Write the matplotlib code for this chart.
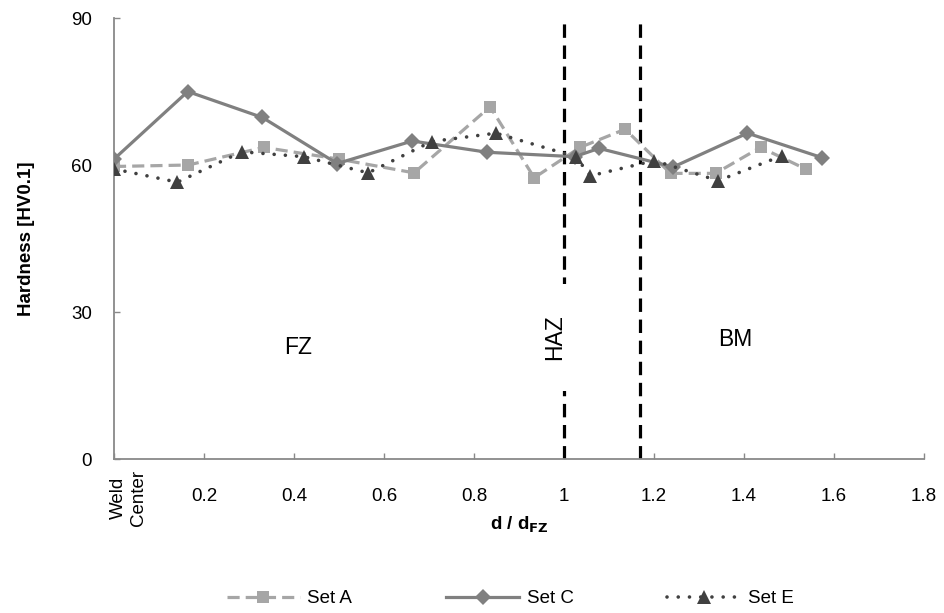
import matplotlib
matplotlib.use("Agg")
import matplotlib.pyplot as plt

plt.rcParams['font.family'] = ['Liberation Sans', 'DejaVu Sans']

# ---- data ----
set_a_x = [0.0, 0.165, 0.333, 0.5, 0.667, 0.836, 0.934, 1.036, 1.136, 1.237, 1.337, 1.437, 1.537]
set_a_y = [59.7, 60.0, 63.6, 61.2, 58.4, 71.9, 57.4, 63.6, 67.3, 58.3, 58.3, 63.6, 59.2]

set_c_x = [0.0, 0.164, 0.33, 0.496, 0.663, 0.83, 1.024, 1.078, 1.243, 1.408, 1.574]
set_c_y = [61.2, 75.0, 69.7, 60.3, 64.9, 62.6, 61.7, 63.4, 59.6, 66.5, 61.5]

set_e_x = [0.0, 0.141, 0.284, 0.422, 0.565, 0.706, 0.849, 1.026, 1.059, 1.201, 1.343, 1.485]
set_e_y = [59.2, 56.5, 62.7, 61.7, 58.4, 64.8, 66.5, 61.7, 57.8, 60.9, 56.8, 61.9]

x_ticks = [0.0, 0.2, 0.4, 0.6, 0.8, 1.0, 1.2, 1.4, 1.6, 1.8]
x_tick_labels = ["Weld\nCenter", "0.2", "0.4", "0.6", "0.8", "1", "1.2", "1.4", "1.6", "1.8"]
y_ticks = [0, 30, 60, 90]

zone_bounds = [1.0, 1.17]
zone_labels = ["FZ", "HAZ", "BM"]

# ---- figure ----
fig = plt.figure(figsize=(9.45, 6.13), dpi=100)
ax = fig.add_axes([0.1206, 0.2512, 0.857, 0.7194])

ax.plot(set_a_x, set_a_y, color='#A6A6A6', lw=2.3, linestyle=(0, (3.8, 1.9)),
        marker='s', markersize=8.5, markeredgewidth=0, label='Set A', zorder=3)
ax.plot(set_c_x, set_c_y, color='#808080', lw=2.3, linestyle='-',
        marker='D', markersize=8, markeredgewidth=0, label='Set C', zorder=4)
ax.plot(set_e_x, set_e_y, color='#404040', lw=2.6, linestyle=(0, (0.01, 3.1)),
        dash_capstyle='round', marker='^', markersize=10, markeredgewidth=0,
        label='Set E', zorder=5)

for xb in zone_bounds:
    ax.axvline(xb, color='black', lw=2.3, linestyle=(0, (4.2, 2.4)), zorder=2)

ax.text(0.41, 22.8, zone_labels[0], fontsize=16.5, ha='center', va='center')
ax.text(0.98, 24.8, zone_labels[1], fontsize=16.5, ha='center', va='center', rotation=90,
        bbox=dict(facecolor='white', edgecolor='none', pad=22), zorder=6)
ax.text(1.38, 24.3, zone_labels[2], fontsize=16.5, ha='center', va='center')

ax.set_xlim(0, 1.8)
ax.set_ylim(0, 90)
ax.set_xticks(x_ticks)
ax.set_xticklabels([""] + x_tick_labels[1:], fontsize=13.5)
ax.set_yticks(y_ticks)
ax.set_yticklabels([str(v) for v in y_ticks], fontsize=13.5)
ax.annotate(x_tick_labels[0], xy=(0, 0), xycoords=('data', 'axes fraction'),
            xytext=(10.5, -8), textcoords='offset points', rotation=90,
            ha='center', va='top', fontsize=13.5, linespacing=1.25)

ax.tick_params(axis='both', direction='in', length=4, width=1, color='#898989')
ax.tick_params(axis='y', pad=16)
ax.tick_params(axis='x', pad=21)

for s in ['top', 'right']:
    ax.spines[s].set_visible(False)
for s in ['left', 'bottom']:
    ax.spines[s].set_color('#898989')
    ax.spines[s].set_linewidth(1.3)

ax.set_ylabel('Hardness [HV0.1]', fontsize=13.5, fontweight='bold', labelpad=26)
ax.set_xlabel(r'd / d$_{\mathbf{FZ}}$', fontsize=13.5, fontweight='bold', labelpad=7)

fig.legend(*ax.get_legend_handles_labels(), loc='lower center', ncol=3,
           bbox_to_anchor=(0.54, -0.018), frameon=False, fontsize=13.5,
           handlelength=3.9, columnspacing=5.0, handletextpad=0.4)

fig.savefig('out.png', dpi=100)
